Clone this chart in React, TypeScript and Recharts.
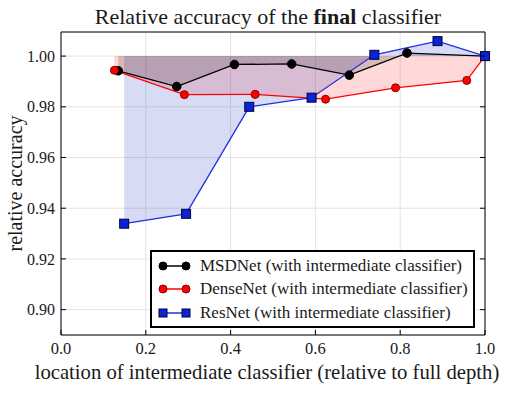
import React from 'react';
import { ComposedChart, Area, Line, XAxis, YAxis, CartesianGrid, Legend, Label } from 'recharts';

// ---- data ----
const msdX = [0.135, 0.273, 0.409, 0.544, 0.680, 0.816, 1.0];
const msdY = [0.9942, 0.988, 0.9967, 0.9969, 0.9925, 1.0012, 1.0];
const denseX = [0.126, 0.291, 0.458, 0.624, 0.789, 0.957, 1.0];
const denseY = [0.9944, 0.9848, 0.9849, 0.983, 0.9875, 0.9904, 1.0];
const resX = [0.149, 0.295, 0.444, 0.591, 0.739, 0.888, 1.0];
const resY = [0.9339, 0.9378, 0.980, 0.9836, 1.0005, 1.0059, 1.0];

const xTicks = [0, 0.2, 0.4, 0.6, 0.8, 1.0];
const yTicks = [0.9, 0.92, 0.94, 0.96, 0.98, 1.0];
const seriesNames = [
  'MSDNet (with intermediate classifier)',
  'DenseNet (with intermediate classifier)',
  'ResNet (with intermediate classifier)',
];
const baseline = 1.0;

const zip = (xs: number[], ys: number[]) => xs.map((x, i) => ({ x, y: ys[i] }));
const msdData = zip(msdX, msdY);
const denseData = zip(denseX, denseY);
const resData = zip(resX, resY);

const FONT = 'Liberation Serif, Times New Roman, serif';
const TXT = '#1a1a1a';

const circleDot = (fill: string, stroke: string, r: number) => (props: any) => {
  const { cx, cy, index } = props;
  if (cx == null || cy == null) return <g key={index} />;
  return <circle key={index} cx={cx} cy={cy} r={r} fill={fill} stroke={stroke} strokeWidth={1} />;
};
const squareDot = (fill: string, stroke: string, s: number) => (props: any) => {
  const { cx, cy, index } = props;
  if (cx == null || cy == null) return <g key={index} />;
  return <rect key={index} x={cx - s / 2} y={cy - s / 2} width={s} height={s} fill={fill} stroke={stroke} strokeWidth={1} />;
};

const BottomTick = (props: any) => {
  const { x, y, payload } = props;
  return (
    <g>
      <line x1={x} x2={x} y1={y} y2={y - 5} stroke="#000" />
      <text x={x} y={y + 7} dy="0.71em" textAnchor="middle" fontFamily={FONT} fontSize={16.5} fill={TXT}>
        {Number(payload.value).toFixed(1)}
      </text>
    </g>
  );
};
const TopTick = (props: any) => {
  const { x, y } = props;
  return <line x1={x} x2={x} y1={y} y2={y + 5} stroke="#000" />;
};
const LeftTick = (props: any) => {
  const { x, y, payload } = props;
  return (
    <g>
      <line x1={x + 6} x2={x + 11} y1={y} y2={y} stroke="#000" />
      <text x={x} y={y} dy="0.35em" textAnchor="end" fontFamily={FONT} fontSize={16} fill={TXT}>
        {Number(payload.value).toFixed(2)}
      </text>
    </g>
  );
};
const RightTick = (props: any) => {
  const { x, y } = props;
  return <line x1={x} x2={x - 5} y1={y} y2={y} stroke="#000" />;
};

const legendItems = [
  { name: seriesNames[0], color: '#000', fill: '#000', stroke: '#000', shape: 'circle' },
  { name: seriesNames[1], color: '#ff0000', fill: '#ff0000', stroke: '#8b0000', shape: 'circle' },
  { name: seriesNames[2], color: '#1f2fe0', fill: '#0a22d8', stroke: '#00003a', shape: 'square' },
];

const LegendBox = () => (
  <div
    style={{
      width: 325,
      height: 78,
      boxSizing: 'border-box',
      border: '2px solid #000',
      background: '#fff',
      fontFamily: FONT,
      fontSize: 17,
      color: TXT,
      paddingTop: 2,
    }}
  >
    {legendItems.map((it) => (
      <div key={it.name} style={{ display: 'flex', alignItems: 'center', height: 23.5 }}>
        <svg width={45} height={14} style={{ marginLeft: 3, flex: 'none' }}>
          <line x1={4} x2={34} y1={7} y2={7} stroke={it.color} strokeWidth={1.5} />
          {it.shape === 'circle' ? (
            <>
              <circle cx={8} cy={7} r={4} fill={it.fill} stroke={it.stroke} />
              <circle cx={31} cy={7} r={4} fill={it.fill} stroke={it.stroke} />
            </>
          ) : (
            <>
              <rect x={4} y={3} width={8} height={8} fill={it.fill} stroke={it.stroke} />
              <rect x={27} y={3} width={8} height={8} fill={it.fill} stroke={it.stroke} />
            </>
          )}
        </svg>
        <span style={{ whiteSpace: 'nowrap' }}>{it.name}</span>
      </div>
    ))}
  </div>
);

const TitleContent = (props: any) => {
  const { viewBox } = props;
  const cx = viewBox.x + viewBox.width / 2 - 5;
  return (
    <text x={cx} y={24} textAnchor="middle" fontFamily={FONT} fontSize={22} fill={TXT}>
      <tspan>Relative accuracy of the </tspan>
      <tspan fontWeight="bold">final</tspan>
      <tspan> classifier</tspan>
    </text>
  );
};

const YLabelContent = (props: any) => {
  const { viewBox } = props;
  const x = viewBox.x + 14;
  const y = viewBox.y + viewBox.height / 2;
  return (
    <text x={x} y={y} transform={`rotate(-90 ${x} ${y})`} textAnchor="middle" dominantBaseline="central" fontFamily={FONT} fontSize={20} fill={TXT}>
      relative accuracy
    </text>
  );
};

const XLabelContent = (props: any) => {
  const { viewBox } = props;
  const x = viewBox.x + viewBox.width / 2 - 6;
  return (
    <text x={x} y={379} textAnchor="middle" fontFamily={FONT} fontSize={20.7} fill={TXT}>
      location of intermediate classifier (relative to full depth)
    </text>
  );
};

export default function App() {
  const range = (d: any) => [d.y, baseline];
  return (
    <div style={{ position: 'absolute', left: 0, top: 0, background: '#fff' }}>
      <ComposedChart width={532} height={397} margin={{ top: 31, right: 46, bottom: 32, left: 1 }}>
        <CartesianGrid stroke="#e3e3e3" strokeWidth={1} />
        <XAxis
          dataKey="x"
          type="number"
          domain={[0, 1]}
          ticks={xTicks}
          height={30}
          tickSize={0}
          tickMargin={0}
          tickLine={false}
          axisLine={{ stroke: '#000' }}
          tick={<BottomTick />}
          allowDuplicatedCategory={false}
        >
          <Label content={<XLabelContent />} />
        </XAxis>
        <XAxis
          xAxisId="top"
          orientation="top"
          dataKey="x"
          type="number"
          domain={[0, 1]}
          ticks={xTicks}
          height={1}
          tickSize={0}
          tickMargin={0}
          tickLine={false}
          axisLine={{ stroke: '#000' }}
          tick={<TopTick />}
        >
          <Label content={<TitleContent />} />
        </XAxis>
        <YAxis
          type="number"
          domain={[0.89, 1.0095]}
          ticks={yTicks}
          width={60}
          tickSize={0}
          tickMargin={6}
          tickLine={false}
          axisLine={{ stroke: '#000' }}
          tick={<LeftTick />}
          allowDataOverflow
        >
          <Label content={<YLabelContent />} />
        </YAxis>
        <YAxis
          yAxisId="right"
          orientation="right"
          type="number"
          domain={[0.89, 1.0095]}
          ticks={yTicks}
          width={1}
          tickSize={0}
          tickMargin={0}
          tickLine={false}
          axisLine={{ stroke: '#000' }}
          tick={<RightTick />}
          allowDataOverflow
        />
        <Area data={denseData} dataKey={range} type="linear" fill="#ff0000" fillOpacity={0.15} stroke="none" isAnimationActive={false} dot={false} activeDot={false} />
        <Area data={resData} dataKey={range} type="linear" fill="#1030c0" fillOpacity={0.17} stroke="none" isAnimationActive={false} dot={false} activeDot={false} />
        <Area data={msdData} dataKey={range} type="linear" fill="#000000" fillOpacity={0.15} stroke="none" isAnimationActive={false} dot={false} activeDot={false} />
        <Line data={msdData} dataKey="y" name={seriesNames[0]} type="linear" stroke="#000" strokeWidth={1.3} dot={circleDot('#000', '#000', 4.3)} activeDot={false} isAnimationActive={false} />
        <Line data={denseData} dataKey="y" name={seriesNames[1]} type="linear" stroke="#ff0000" strokeWidth={1.3} dot={circleDot('#ff0000', '#8b0000', 4)} activeDot={false} isAnimationActive={false} />
        <Line data={resData} dataKey="y" name={seriesNames[2]} type="linear" stroke="#1f2fe0" strokeWidth={1.3} dot={squareDot('#0a22d8', '#00003a', 9)} activeDot={false} isAnimationActive={false} />
        <Legend
          layout="horizontal"
          align="center"
          verticalAlign="middle"
          content={<LegendBox />}
          wrapperStyle={{ left: 150, top: 250, width: 325, height: 78 }}
        />
      </ComposedChart>
    </div>
  );
}
